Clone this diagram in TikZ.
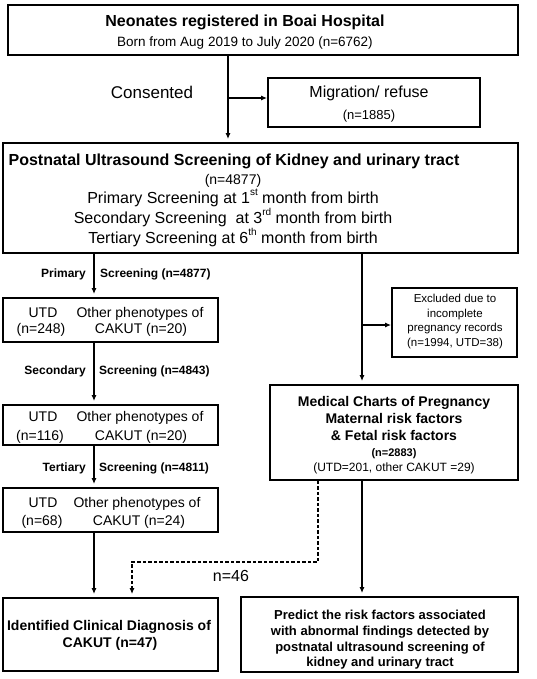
\documentclass[tikz,border=0pt]{standalone}
\usepackage{fontspec}
\setmainfont{Liberation Sans}
\usetikzlibrary{arrows.meta,fit}
\newcommand{\fs}[1]{\fontsize{#1}{#1}\selectfont}
\newcommand{\sups}[1]{\raisebox{0.45em}{\fontsize{10}{10}\selectfont #1}}
\begin{document}
\begin{tikzpicture}[x=1pt,y=-1pt,
  box/.style={draw, line width=1.8pt, inner sep=0pt},
  arr/.style={line width=1.4pt, -{Latex[length=6pt,width=5pt]}},
  varr/.style={arr, shorten >=3pt},
  dashline/.style={line width=1.4pt, dash pattern=on 3.5pt off 2pt},
  txt/.style={inner sep=0pt, anchor=base}]
\useasboundingbox[fill=white] (0,0) rectangle (536,679);

% boxes
\node[box, fit={(8,5)(518,55)}] (top) {};
\node[box, fit={(268,78)(480,127)}] (mig) {};
\node[box, fit={(3,143)(518,253)}] (post) {};
\node[box, fit={(3,298)(218,342)}] (u1) {};
\node[box, fit={(3,405)(218,445)}] (u2) {};
\node[box, fit={(3,488)(218,532)}] (u3) {};
\node[box, fit={(3,598)(218,671)}] (diag) {};
\node[box, fit={(392,288)(517,357)}] (excl) {};
\node[box, fit={(270,385)(518,480)}] (med) {};
\node[box, fit={(241,597)(518,672)}] (pred) {};

% coordinates
\coordinate (cx) at (228,0);
\coordinate (j1) at (228,98);
\coordinate (lx) at (94,0);
\coordinate (rx) at (362,0);
\coordinate (j2) at (362,325);
\coordinate (dx) at (318,0);
\coordinate (d1) at (318,562);
\coordinate (d2) at (132,562);

% texts
\node[txt, font=\fs{16}\bfseries] (t1) at (245,27) {Neonates registered in Boai Hospital};
\node[txt, font=\fs{13.5}] (t2) at (245,47) {Born from Aug 2019 to July 2020 (n=6762)};
\node[txt, font=\fs{17}] (cons) at (152,99) {Consented};
\node[txt, font=\fs{16}] (m1) at (369,98) {Migration/ refuse};
\node[txt, font=\fs{13}] (m2) at (369,120) {(n=1885)};
\node[txt, font=\fs{16}\bfseries] (p1) at (234,166) {Postnatal Ultrasound Screening of Kidney and urinary tract};
\node[txt, font=\fs{14}] (p2) at (233,184) {(n=4877)};
\node[txt, font=\fs{16}] (p3) at (233,203) {Primary Screening at 1\sups{st} month from birth};
\node[txt, font=\fs{16}] (p4) at (233,223) {Secondary Screening\ \ at 3\sups{rd} month from birth};
\node[txt, font=\fs{16}] (p5) at (233,243) {Tertiary Screening at 6\sups{th} month from birth};

\node[txt, font=\fs{12}\bfseries, anchor=base east] (l1a) at (86,277) {Primary};
\node[txt, font=\fs{12}\bfseries, anchor=base west] (l1b) at (100,277) {Screening (n=4877)};
\node[txt, font=\fs{12}\bfseries, anchor=base east] (l2a) at (86,374) {Secondary};
\node[txt, font=\fs{12}\bfseries, anchor=base west] (l2b) at (99,374) {Screening (n=4843)};
\node[txt, font=\fs{12}\bfseries, anchor=base east] (l3a) at (86,471) {Tertiary};
\node[txt, font=\fs{12}\bfseries, anchor=base west] (l3b) at (99,471) {Screening (n=4811)};

\node[txt, font=\fs{14}] (u1a) at (43,317) {UTD};
\node[txt, font=\fs{14}] (u1b) at (41,333) {(n=248)};
\node[txt, font=\fs{14}] (u1c) at (140,317) {Other phenotypes of};
\node[txt, font=\fs{14}] (u1d) at (141,333) {CAKUT (n=20)};
\node[txt, font=\fs{14}] (u2a) at (43,421) {UTD};
\node[txt, font=\fs{14}] (u2b) at (40,440) {(n=116)};
\node[txt, font=\fs{14}] (u2c) at (140,421) {Other phenotypes of};
\node[txt, font=\fs{14}] (u2d) at (141,440) {CAKUT (n=20)};
\node[txt, font=\fs{14}] (u3a) at (43,507) {UTD};
\node[txt, font=\fs{14}] (u3b) at (42,525) {(n=68)};
\node[txt, font=\fs{14}] (u3c) at (137,507) {Other phenotypes of};
\node[txt, font=\fs{14}] (u3d) at (139,525) {CAKUT (n=24)};

\node[txt, font=\fs{11.5}] (e1) at (455,302) {Excluded due to};
\node[txt, font=\fs{11.5}] (e2) at (455,317) {incomplete};
\node[txt, font=\fs{11.5}] (e3) at (455,331) {pregnancy records};
\node[txt, font=\fs{11.5}] (e4) at (455,346) {(n=1994, UTD=38)};

\node[txt, font=\fs{14}\bfseries] (md1) at (394,406) {Medical Charts of Pregnancy};
\node[txt, font=\fs{14}\bfseries] (md2) at (394,423) {Maternal risk factors};
\node[txt, font=\fs{14}\bfseries] (md3) at (394,440) {\& Fetal risk factors};
\node[txt, font=\fs{11}\bfseries] (md4) at (394,456) {(n=2883)};
\node[txt, font=\fs{12}] (md5) at (394,471) {(UTD=201, other CAKUT =29)};

\node[txt, font=\fs{14}\bfseries] (dg1) at (109,630) {Identified Clinical Diagnosis of};
\node[txt, font=\fs{14}\bfseries] (dg2) at (110,647) {CAKUT (n=47)};

\node[txt, font=\fs{13}\bfseries] (pr1) at (380,619) {Predict the risk factors associated};
\node[txt, font=\fs{13}\bfseries] (pr2) at (380,635) {with abnormal findings detected by};
\node[txt, font=\fs{13}\bfseries] (pr3) at (380,651) {postnatal ultrasound screening of};
\node[txt, font=\fs{13}\bfseries] (pr4) at (380,666) {kidney and urinary tract};

\node[txt, font=\fs{16}] (n46) at (231,581) {n=46};

% connectors
\draw[varr] (top.south -| cx) -- (post.north -| cx);
\draw[arr] (j1) -- (j1 -| mig.west);
\draw[varr] (post.south -| lx) -- (u1.north -| lx);
\draw[varr] (u1.south -| lx) -- (u2.north -| lx);
\draw[varr] (u2.south -| lx) -- (u3.north -| lx);
\draw[varr] (u3.south -| lx) -- (diag.north -| lx);
\draw[varr] (post.south -| rx) -- (med.north -| rx);
\draw[arr] (j2) -- (j2 -| excl.west);
\draw[varr] (med.south -| rx) -- (pred.north -| rx);
\draw[dashline, -{Latex[length=6pt,width=5pt]}, shorten >=3pt] (med.south -| dx) -- (d1) -- (d2) -- (diag.north -| d2);
\end{tikzpicture}
\end{document}
